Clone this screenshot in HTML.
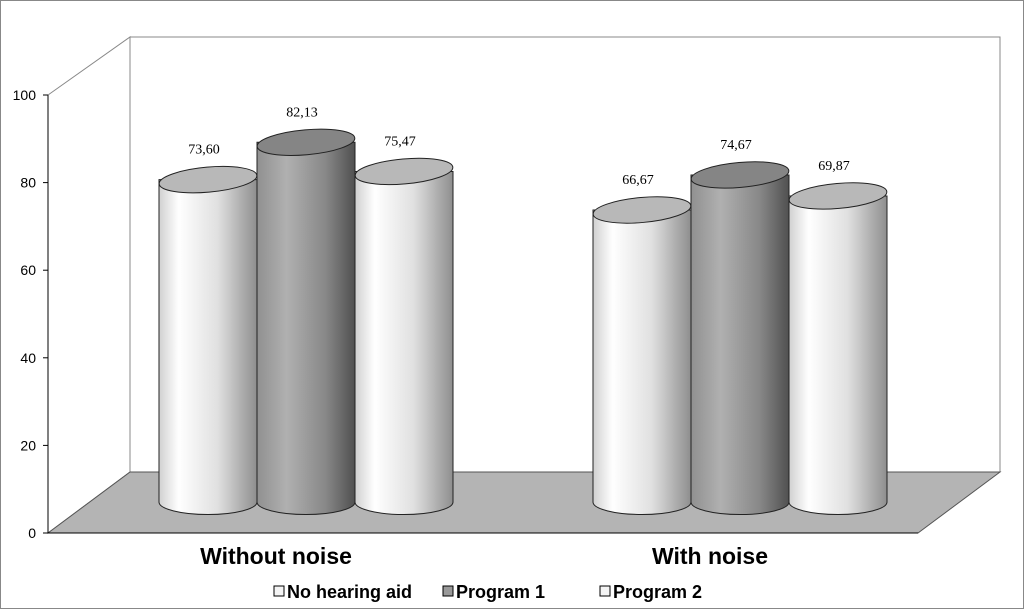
<!DOCTYPE html>
<html><head><meta charset="utf-8"><style>
body{margin:0;background:#fff}
svg{display:block}
</style></head><body>
<svg id="chart" width="1024" height="609" viewBox="0 0 1024 609" xmlns="http://www.w3.org/2000/svg">
<defs>
<linearGradient id="gLight" x1="0" x2="1" y1="0" y2="0">
<stop offset="0" stop-color="#d0d0d0"/><stop offset="0.2" stop-color="#ffffff"/><stop offset="0.6" stop-color="#e0e0e0"/><stop offset="1" stop-color="#8e8e8e"/>
</linearGradient>
<linearGradient id="gDark" x1="0" x2="1" y1="0" y2="0">
<stop offset="0" stop-color="#909090"/><stop offset="0.3" stop-color="#b0b0b0"/><stop offset="0.7" stop-color="#888"/><stop offset="1" stop-color="#505050"/>
</linearGradient>
</defs>
<rect x="0.5" y="0.5" width="1023" height="608" fill="#fff" stroke="#888"/>
<polygon points="130,37 1000,37 1000,472 130,472" fill="#fff" stroke="#888"/>
<polygon points="48,95 130,37 130,472 48,533" fill="#fff" stroke="#888"/>
<polygon points="48,533 918,533 1000,472 130,472" fill="#b4b4b4" stroke="#555"/>
<line x1="48" y1="95" x2="48" y2="533" stroke="#000"/>
<line x1="48" y1="533" x2="918" y2="533" stroke="#000"/>
<g id="ticks"></g>
<g id="bars"></g>
<text x="276" y="564" text-anchor="middle" font-family="Liberation Sans, sans-serif" font-weight="bold" font-size="23">Without noise</text>
<text x="710" y="564" text-anchor="middle" font-family="Liberation Sans, sans-serif" font-weight="bold" font-size="23">With noise</text>
<g font-family="Liberation Sans, sans-serif" font-weight="bold" font-size="18">
<rect x="274" y="586" width="10" height="10" fill="#f4f4f4" stroke="#000"/>
<text x="287" y="598">No hearing aid</text>
<rect x="443" y="586" width="10" height="10" fill="#999" stroke="#000"/>
<text x="456" y="598">Program 1</text>
<rect x="600" y="586" width="10" height="10" fill="#f4f4f4" stroke="#000"/>
<text x="613" y="598">Program 2</text>
</g>
</svg>
<script>
const categories = ["Without noise", "With noise"];
const seriesNames = ["No hearing aid", "Program 1", "Program 2"];
const noHearingAid = [73.60, 66.67];
const program1 = [82.13, 74.67];
const program2 = [75.47, 69.87];
const valueLabels = [["73,60","66,67"],["82,13","74,67"],["75,47","69,87"]];
const yTicks = [0, 20, 40, 60, 80, 100];

const NS = "http://www.w3.org/2000/svg";
const yFront = v => 533 - v * 4.38;
const yMid = v => 502 - v * 4.38;
const groupCenter = i => 306 + i * 434;
const barCenter = (g, s) => groupCenter(g) + (s - 1) * 98;

const tickG = document.getElementById('ticks');
yTicks.forEach(t => {
  const y = yFront(t);
  const l = document.createElementNS(NS, 'line');
  
  
  l.setAttribute('x1', 43); l.setAttribute('x2', 48);
  l.setAttribute('y1', y); l.setAttribute('y2', y);
  l.setAttribute('stroke', '#000');
  tickG.appendChild(l);
  const tx = document.createElementNS(NS, 'text');
  
  
  tx.setAttribute('x', 36); tx.setAttribute('y', y + 5);
  tx.setAttribute('text-anchor', 'end');
  tx.setAttribute('font-family', 'Liberation Sans, sans-serif');
  tx.setAttribute('font-size', '14');
  tx.textContent = t;
  tickG.appendChild(tx);
});

const series = [noHearingAid, program1, program2];
const barsG = document.getElementById('bars');
const rx = 49, ry = 12.5;
categories.forEach((c, g) => {
  series.forEach((vals, s) => {
    const cx = barCenter(g, s);
    const yb = yMid(0), yt = yMid(vals[g]);
    const dark = s === 1;
    const grp = document.createElementNS(NS, 'g');
    
    
    const body = document.createElementNS(NS, 'path');
    body.setAttribute('d', `M${cx-rx},${yt} L${cx-rx},${yb} A${rx},${ry} 0 0 0 ${cx+rx},${yb} L${cx+rx},${yt} Z`);
    body.setAttribute('fill', dark ? 'url(#gDark)' : 'url(#gLight)');
    body.setAttribute('stroke', '#222');
    grp.appendChild(body);
    const top = document.createElementNS(NS, 'ellipse');
    top.setAttribute('cx', cx); top.setAttribute('cy', yt);
    top.setAttribute('rx', rx); top.setAttribute('ry', ry);
    top.setAttribute('transform', `rotate(-5 ${cx} ${yt})`);
    top.setAttribute('fill', dark ? '#858585' : '#b8b8b8');
    top.setAttribute('stroke', '#222');
    grp.appendChild(top);
    barsG.appendChild(grp);
    const lab = document.createElementNS(NS, 'text');
    
    
    lab.setAttribute('x', cx - 4); lab.setAttribute('y', yt - 26);
    lab.setAttribute('text-anchor', 'middle');
    lab.setAttribute('font-family', 'Liberation Serif, serif');
    lab.setAttribute('font-size', '14');
    lab.textContent = valueLabels[s][g];
    barsG.appendChild(lab);
  });
});
</script>
</body></html>
